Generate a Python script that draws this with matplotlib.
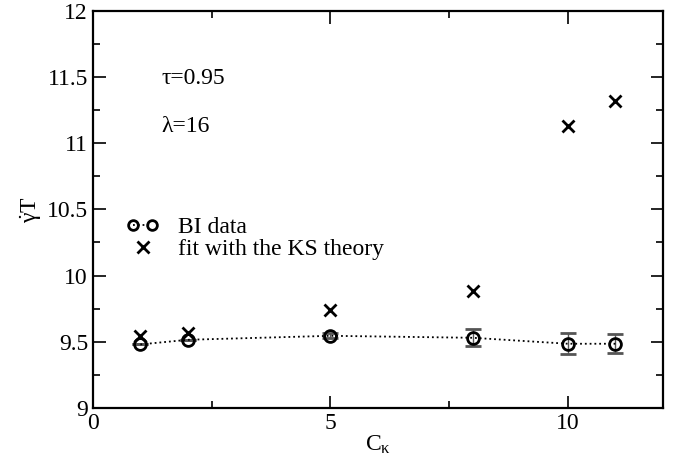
import numpy as np
import matplotlib
matplotlib.use("Agg")
import matplotlib.pyplot as plt
from matplotlib.lines import Line2D
from matplotlib.legend_handler import HandlerLine2D
from matplotlib.ticker import MultipleLocator

plt.rcParams["font.family"] = ["Liberation Serif", "DejaVu Serif"]
plt.rcParams["mathtext.fontset"] = "custom"
plt.rcParams["mathtext.rm"] = "Liberation Serif"
plt.rcParams["mathtext.it"] = "Liberation Serif"

# BI data
c_kappa = [1, 2, 5, 8, 10, 11]
bi_vals = [9.48, 9.515, 9.545, 9.53, 9.485, 9.485]
bi_err = [0.0, 0.0, 0.02, 0.065, 0.08, 0.07]

# fit with the KS theory
ks_x = [1, 2, 5, 8, 10, 11]
ks_vals = [9.54, 9.57, 9.74, 9.88, 11.13, 11.32]

fig = plt.figure(figsize=(6.73, 4.70), dpi=100)
ax = fig.add_axes([0.138, 0.132, 0.847, 0.845])

ax.errorbar(c_kappa, bi_vals, yerr=bi_err, fmt="o", ls=":", color="black",
            mfc="none", mec="black", ms=8.5, mew=2, lw=1.3,
            ecolor="#555555", elinewidth=1, capsize=6, capthick=1.2)
ax.plot(ks_x, ks_vals, "x", color="black", ms=9, mew=2)

ax.set_xlim(0, 12)
ax.set_ylim(9, 12)
ax.xaxis.set_major_locator(MultipleLocator(5))
ax.xaxis.set_minor_locator(MultipleLocator(2.5))
ax.yaxis.set_major_locator(MultipleLocator(0.5))
ax.yaxis.set_minor_locator(MultipleLocator(0.25))
ax.tick_params(which="both", direction="in", top=True, right=True,
               width=1.2, labelsize=17)
ax.tick_params(which="major", length=9)
ax.tick_params(which="minor", length=5)
ax.set_yticks(np.arange(9, 12.01, 0.5))
ax.set_yticklabels(["9", "9.5", "10", "10.5", "11", "11.5", "12"])
for sp in ax.spines.values():
    sp.set_linewidth(1.6)

ax.set_xlabel("C$_{\u03ba}$", fontsize=17, labelpad=0)
ax.set_ylabel("$\\dot{\u03b3}$T", fontsize=17, labelpad=2)

ax.text(0.12, 0.83, "\u03c4=0.95", transform=ax.transAxes, fontsize=17,
        va="center")
ax.text(0.12, 0.708, "\u03bb=16", transform=ax.transAxes, fontsize=17,
        va="center")

h_bi = Line2D([], [], ls=":", color="black", marker="o", mfc="none",
              mec="black", ms=7, mew=2, lw=1.3)
h_ks = Line2D([], [], ls="none", color="black", marker="x", ms=9, mew=2)
leg = ax.legend([h_bi, h_ks], ["BI data", "fit with the KS theory"],
                loc="upper left", bbox_to_anchor=(0.042, 0.505),
                frameon=False, fontsize=17, numpoints=2, handlelength=1.4,
                handletextpad=0.8, labelspacing=0.0, borderaxespad=0,
                handler_map={h_ks: HandlerLine2D(numpoints=1)})

fig.savefig("out.png", dpi=100)
